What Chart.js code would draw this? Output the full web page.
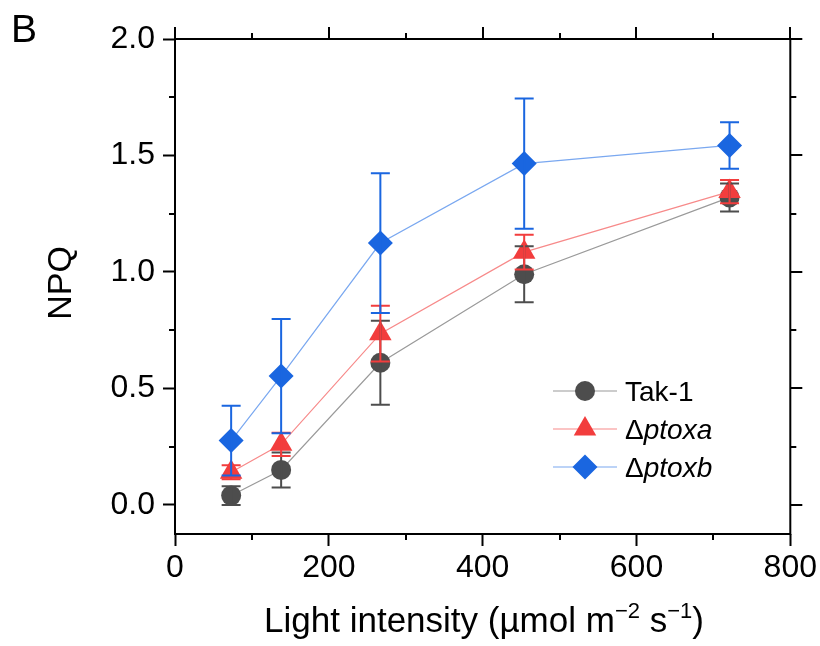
<!DOCTYPE html>
<html>
<head>
<meta charset="utf-8">
<script src="https://cdn.jsdelivr.net/npm/chart.js@4.4.1/dist/chart.umd.min.js"></script>
<style>
  html, body { margin: 0; padding: 0; background: #fff; }
  #wrap { width: 820px; height: 646px; position: relative; }
</style>
</head>
<body>
<div id="wrap"><canvas id="c"></canvas></div>
<script>
// light intensity (µmol m-2 s-1)
const LIGHT = [73, 138, 267, 454, 721]

// NPQ means and error bars
const TAK1 = [0.04, 0.15, 0.61, 0.99, 1.32]
const TAK1_ERR = [0.04, 0.075, 0.18, 0.12, 0.06]
const PTOXA = [0.14, 0.26, 0.735, 1.085, 1.345]
const PTOXA_ERR = [0.03, 0.05, 0.12, 0.075, 0.05]
const PTOXB = [0.276, 0.553, 1.124, 1.465, 1.543]
const PTOXB_ERR = [0.15, 0.245, 0.30, 0.28, 0.10]

const X_TICKS = [0, 200, 400, 600, 800]
const X_MINOR = [100, 300, 500, 700]
const Y_TICKS = [0, 0.5, 1.0, 1.5, 2.0]
const Y_MINOR = [0.25, 0.75, 1.25, 1.75]

const FONT = '"Liberation Sans", Arial, sans-serif'

const SERIES = [
  { name: 'Tak-1', prefix: '', italic: '', y: TAK1, err: TAK1_ERR, color: '#4d4d4d', line: '#9a9a9a', style: 'circle', r: 10 },
  { name: 'Δptoxa', prefix: 'Δ', italic: 'ptoxa', y: PTOXA, err: PTOXA_ERR, color: '#f23d3d', line: '#f78a8a', style: 'triangle', r: 13 },
  { name: 'Δptoxb', prefix: 'Δ', italic: 'ptoxb', y: PTOXB, err: PTOXB_ERR, color: '#1a66e0', line: '#7aa8f0', style: 'rectRot', r: 12.5 },
]

const datasets = SERIES.map((s, i) => ({
  label: s.name,
  data: LIGHT.map((x, k) => ({ x, y: s.y[k] })),
  showLine: true,
  borderColor: s.line,
  borderWidth: 1.2,
  backgroundColor: s.color,
  pointStyle: s.style,
  pointRadius: s.r,
  pointHoverRadius: s.r,
  pointBackgroundColor: s.color,
  pointBorderWidth: 0,
  order: SERIES.length - i,
}))

function drawSegments(ctx, parts, x, y) {
  // parts: [text, font, dy]
  let cx = x
  for (const [t, f, dy] of parts) {
    ctx.font = f
    ctx.fillText(t, cx, y + (dy || 0))
    cx += ctx.measureText(t).width
  }
}

function measureSegments(ctx, parts) {
  let w = 0
  for (const [t, f] of parts) { ctx.font = f; w += ctx.measureText(t).width }
  return w
}

const errorBars = {
  id: 'errorBars',
  afterDatasetsDraw(chart) {
    const { ctx, scales: { x, y } } = chart
    ctx.save()
    ctx.lineWidth = 2
    SERIES.forEach(s => {
      ctx.strokeStyle = s.color
      LIGHT.forEach((lx, k) => {
        const px = x.getPixelForValue(lx)
        const top = y.getPixelForValue(s.y[k] + s.err[k])
        const bot = y.getPixelForValue(s.y[k] - s.err[k])
        ctx.beginPath()
        ctx.moveTo(px, top); ctx.lineTo(px, bot)
        ctx.moveTo(px - 9.5, top); ctx.lineTo(px + 9.5, top)
        ctx.moveTo(px - 9.5, bot); ctx.lineTo(px + 9.5, bot)
        ctx.stroke()
      })
    })
    ctx.restore()
  }
}

const decor = {
  id: 'decor',
  afterDraw(chart) {
    const { ctx, chartArea: a, scales: { x, y } } = chart
    ctx.save()
    ctx.strokeStyle = '#000'
    ctx.lineWidth = 2
    ctx.beginPath()
    ctx.rect(a.left, a.top, a.right - a.left, a.bottom - a.top)
    // minor ticks left/bottom, all ticks top/right
    X_MINOR.forEach(v => {
      const px = Math.round(x.getPixelForValue(v))
      ctx.moveTo(px, a.bottom); ctx.lineTo(px, a.bottom + 6)
      ctx.moveTo(px, a.top); ctx.lineTo(px, a.top - 6)
    })
    X_TICKS.forEach(v => {
      const px = Math.round(x.getPixelForValue(v))
      ctx.moveTo(px, a.top); ctx.lineTo(px, a.top - 12)
    })
    Y_MINOR.forEach(v => {
      const py = Math.round(y.getPixelForValue(v))
      ctx.moveTo(a.left, py); ctx.lineTo(a.left - 6, py)
      ctx.moveTo(a.right, py); ctx.lineTo(a.right + 6, py)
    })
    Y_TICKS.forEach(v => {
      const py = Math.round(y.getPixelForValue(v))
      ctx.moveTo(a.right, py); ctx.lineTo(a.right + 12, py)
    })
    ctx.stroke()

    ctx.fillStyle = '#000'
    ctx.textBaseline = 'alphabetic'

    // panel letter
    ctx.font = '39px ' + FONT
    ctx.textAlign = 'left'
    ctx.fillText('B', 11, 42)

    // y title
    ctx.save()
    ctx.translate(71, 283)
    ctx.rotate(-Math.PI / 2)
    ctx.textAlign = 'center'
    ctx.font = '34px ' + FONT
    ctx.fillText('NPQ', 0, 0)
    ctx.restore()

    // x title with superscripts
    const big = '35px ' + FONT, sup = '22px ' + FONT
    const parts = [['Light intensity (µmol m', big], ['−2', sup, -14], [' s', big], ['−1', sup, -14], [')', big]]
    ctx.textAlign = 'left'
    const w = measureSegments(ctx, parts)
    drawSegments(ctx, parts, 484 - w / 2, 632)

    // legend
    const rows = [391, 429, 467]
    SERIES.forEach((s, i) => {
      const ry = rows[i]
      ctx.strokeStyle = s.line
      ctx.lineWidth = 1.2
      ctx.beginPath(); ctx.moveTo(553, ry); ctx.lineTo(617, ry); ctx.stroke()
      ctx.fillStyle = s.color
      Chart.helpers.drawPoint(ctx, { pointStyle: s.style, rotation: 0, radius: s.r, borderWidth: 0 }, 585, ry)
      ctx.fillStyle = '#000'
      const f = '28px ' + FONT, fi = 'italic 28px ' + FONT
      const segs = s.prefix ? [[s.prefix, f], [s.italic, fi]] : [[s.name, f]]
      drawSegments(ctx, segs, 625, ry + 10)
    })
    ctx.restore()
  }
}

new Chart(document.getElementById('c'), {
  type: 'scatter',
  data: { datasets },
  options: {
    responsive: true,
    maintainAspectRatio: false,
    animation: false,
    events: [],
    layout: { padding: { left: 0, right: 27, top: 39, bottom: 0 } },
    plugins: { legend: { display: false }, tooltip: { enabled: false } },
    scales: {
      x: {
        type: 'linear',
        min: 0,
        max: 800,
        afterFit: s => { s.height = 112 },
        afterBuildTicks: s => { s.ticks = X_TICKS.map(v => ({ value: v })) },
        grid: { display: true, drawOnChartArea: false, drawTicks: true, tickLength: 12, tickWidth: 2, tickColor: '#000' },
        border: { display: false },
        ticks: { color: '#000', font: { family: FONT, size: 32 }, padding: 3, maxRotation: 0, callback: v => String(v) },
      },
      y: {
        type: 'linear',
        min: -0.125,
        max: 2.0,
        afterFit: s => { s.width = 175 },
        afterBuildTicks: s => { s.ticks = Y_TICKS.map(v => ({ value: v })) },
        grid: { display: true, drawOnChartArea: false, drawTicks: true, tickLength: 12, tickWidth: 2, tickColor: '#000' },
        border: { display: false },
        ticks: { color: '#000', font: { family: FONT, size: 32 }, padding: 8, callback: v => v.toFixed(1) },
      },
    },
  },
  plugins: [errorBars, decor],
})
</script>
</body>
</html>
